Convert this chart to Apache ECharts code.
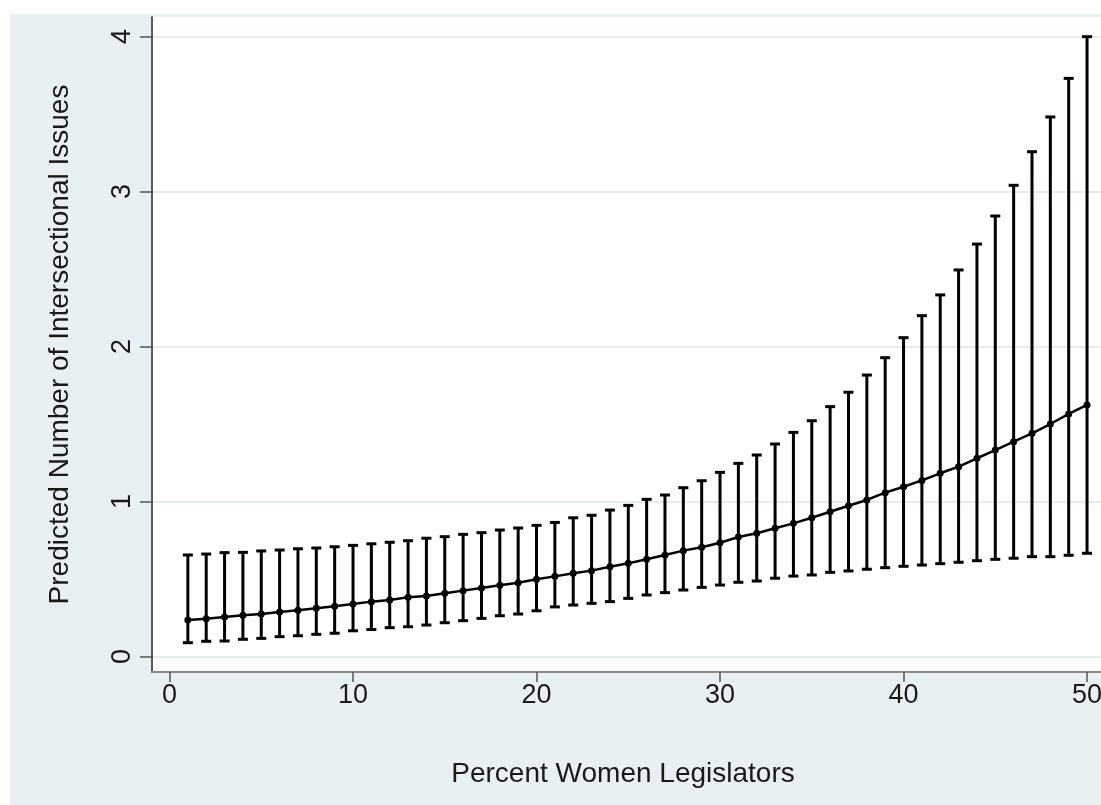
<!DOCTYPE html>
<html>
<head>
<meta charset="utf-8">
<script src="https://cdn.jsdelivr.net/npm/echarts@6/dist/echarts.min.js"></script>
<style>
html,body{margin:0;padding:0;background:#fff;overflow:hidden;}
#chart{width:1101px;height:805px;}
</style>
</head>
<body>
<div id="chart"></div>
<script>
// Percent women legislators (x)
var xs = [1,2,3,4,5,6,7,8,9,10,11,12,13,14,15,16,17,18,19,20,21,22,23,24,25,26,27,28,29,30,31,32,33,34,35,36,37,38,39,40,41,42,43,44,45,46,47,48,49,50];
// Predicted number of intersectional issues
var predicted = [0.235,0.244,0.255,0.266,0.274,0.287,0.298,0.311,0.324,0.339,0.354,0.365,0.382,0.390,0.408,0.425,0.442,0.459,0.476,0.498,0.517,0.537,0.554,0.579,0.601,0.627,0.655,0.683,0.705,0.734,0.771,0.795,0.827,0.859,0.895,0.934,0.973,1.010,1.057,1.095,1.136,1.182,1.225,1.279,1.332,1.386,1.440,1.500,1.565,1.623];
// Upper confidence bound
var upper = [0.655,0.661,0.670,0.672,0.681,0.687,0.695,0.700,0.708,0.717,0.727,0.737,0.747,0.763,0.773,0.788,0.799,0.816,0.829,0.846,0.865,0.895,0.911,0.945,0.975,1.014,1.042,1.089,1.134,1.188,1.246,1.300,1.371,1.446,1.521,1.612,1.705,1.816,1.928,2.057,2.199,2.333,2.494,2.661,2.842,3.040,3.257,3.481,3.730,3.999];
// Lower confidence bound
var lower = [0.089,0.098,0.100,0.111,0.117,0.128,0.134,0.143,0.150,0.166,0.174,0.186,0.192,0.203,0.218,0.231,0.246,0.263,0.274,0.295,0.320,0.332,0.343,0.354,0.375,0.397,0.412,0.429,0.446,0.461,0.479,0.487,0.505,0.519,0.526,0.543,0.552,0.563,0.573,0.582,0.590,0.599,0.608,0.618,0.627,0.634,0.644,0.644,0.653,0.666];
// Tick labels
var xTicks = [0,10,20,30,40,50];
var yTicks = [0,1,2,3,4];
var xTitle = 'Percent Women Legislators';
var yTitle = 'Predicted Number of Intersectional Issues';

var lineData = xs.map(function(x,i){return [x, predicted[i]];});
var barData = xs.map(function(x,i){return [x, lower[i], upper[i]];});

var FONT = '"Liberation Sans", Arial, sans-serif';
var chart = echarts.init(document.getElementById('chart'), null, {renderer:'canvas'});
chart.setOption({
  backgroundColor: '#ffffff',
  animation: false,
  graphic: {
    elements: [{
      type: 'rect', z: -100, silent: true,
      shape: {x: 10, y: 14, width: 1091, height: 791},
      style: {fill: '#e9f0f3'}
    }]
  },
  grid: {
    left: 152, top: 17, width: 960, height: 655,
    outerBoundsMode: 'none', containLabel: false,
    show: true, backgroundColor: '#ffffff', borderWidth: 0
  },
  xAxis: {
    type: 'value', min: -0.954, max: 51.36,
    name: xTitle, nameLocation: 'middle', nameGap: 88,
    nameTextStyle: {fontFamily: FONT, fontSize: 28, color: '#1a1a1a', padding: [0, 18, 0, 0]},
    axisLine: {show: true, onZero: false, lineStyle: {color: '#8a8a8a', width: 2}},
    axisTick: {show: true, customValues: xTicks, length: 10, lineStyle: {color: '#555', width: 1.5}},
    axisLabel: {show: true, customValues: xTicks, margin: 10, fontFamily: FONT, fontSize: 27, color: '#1a1a1a'},
    splitLine: {show: false}
  },
  yAxis: {
    type: 'value', min: -0.1, max: 4.126,
    name: yTitle, nameLocation: 'middle', nameGap: 78, nameRotate: 90,
    nameTextStyle: {fontFamily: FONT, fontSize: 28, color: '#1a1a1a'},
    axisLine: {show: true, onZero: false, lineStyle: {color: '#5a5a5a', width: 2}},
    axisTick: {show: true, customValues: yTicks, length: 12, lineStyle: {color: '#555', width: 1.5}},
    axisLabel: {show: true, customValues: yTicks, rotate: 90, margin: 16, fontFamily: FONT, fontSize: 27, color: '#1a1a1a'},
    splitLine: {show: true, lineStyle: {color: '#e3ecef', width: 2}}
  },
  series: [{
    type: 'custom',
    data: barData,
    encode: {x: 0, y: [1, 2]},
    clip: true,
    renderItem: function(params, api){
      var x = api.value(0);
      var pLo = api.coord([x, api.value(1)]);
      var pHi = api.coord([x, api.value(2)]);
      var hw = 5;
      var st = {stroke: '#000', lineWidth: 3};
      return {type: 'group', children: [
        {type: 'line', shape: {x1: pLo[0], y1: pLo[1], x2: pHi[0], y2: pHi[1]}, style: st},
        {type: 'line', shape: {x1: pHi[0]-hw, y1: pHi[1], x2: pHi[0]+hw, y2: pHi[1]}, style: st},
        {type: 'line', shape: {x1: pLo[0]-hw, y1: pLo[1], x2: pLo[0]+hw, y2: pLo[1]}, style: st}
      ]};
    }
  }, {
    type: 'line',
    data: lineData,
    symbol: 'circle', symbolSize: 7,
    itemStyle: {color: '#000'},
    lineStyle: {color: '#000', width: 2.5},
    z: 3
  }]
});
</script>
</body>
</html>
